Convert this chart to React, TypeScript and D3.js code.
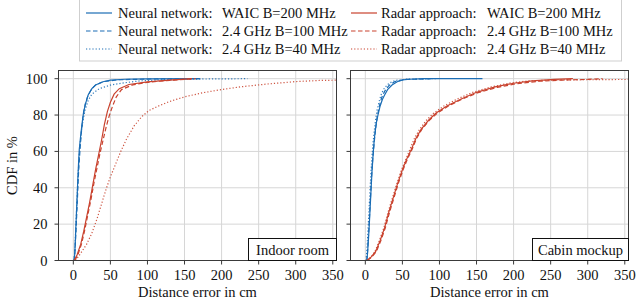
import React from "react";
import * as d3 from "d3";

type Pt = [number, number];

// ---------- Data (distance error in cm, CDF in %) ----------
// Indoor room
const indoorNNWaic: Pt[] = [[1,0],[2,4],[3,14],[4,24],[5,34],[6,44],[7,53],[8,61],[10,69],[12,76],[14,82],[17,87],[20,91],[25,94.5],[30,96.5],[40,98.3],[50,99.2],[70,99.7],[100,99.9],[170,100]];
const indoorNN100: Pt[] = [[1,0],[2,4],[3,11],[5,29],[7,48],[9,61],[11,71],[13,79],[16,86],[20,91],[25,94.5],[30,96.5],[40,98.3],[60,99.4],[100,99.8],[175,100]];
const indoorNN40: Pt[] = [[1,0],[2,5],[4,24],[6,44],[8,58],[10,68],[13,77],[16,83],[20,88],[25,91.5],[35,94.5],[50,96.5],[70,97.8],[90,98.8],[120,99.4],[170,99.8],[235,100]];
const indoorRadarWaic: Pt[] = [[1,0],[5,3],[10,9],[14,16],[18,24],[22,32],[26,41],[30,50],[34,58],[38,66],[42,75],[46,82],[50,87],[55,91.5],[62,94.5],[75,96.8],[100,98.2],[130,99.2],[160,100]];
const indoorRadar100: Pt[] = [[2,0],[6,3],[11,9],[15,16],[19,24],[24,34],[28,43],[32,51],[36,59],[40,66],[44,73],[48,79],[53,85],[58,90],[65,94],[80,96.6],[100,98],[130,99.1],[165,100]];
const indoorRadar40: Pt[] = [[3,0],[10,4],[18,9],[25,15],[32,23],[38,31],[44,39],[50,46],[57,53],[64,60],[72,67],[82,74],[92,79],[102,82.5],[115,85],[130,87.5],[150,90],[175,92.3],[200,94],[225,95.5],[260,97],[300,98.4],[330,99],[370,99.3]];

// Cabin mockup
const cabinNNWaic: Pt[] = [[2,0],[3,4],[4,10],[5,17],[6,25],[7,33],[8,41],[9,49],[10,55],[11,61],[12,66],[13,70],[15,76],[17,80],[20,85],[23,88.5],[26,91],[30,94],[36,96.5],[43,98.3],[50,99.3],[60,99.7],[80,100],[158,100]];
const cabinNN100: Pt[] = [[2,0],[3,5],[4,12],[5,19],[6,27],[7,35],[8,43],[9,50],[10,56],[12,65],[14,73],[16,79],[19,85],[22,89.5],[26,93],[32,96.3],[40,98.4],[55,99.6],[90,100]];
const cabinNN40: Pt[] = [[1,0],[2,5],[3,12],[4,20],[5,28],[6,36],[7,44],[8,51],[9,57],[10,63],[12,71],[14,78],[16,83],[19,88],[22,92],[26,95],[32,97.5],[40,99],[55,99.7],[95,100]];
const cabinRadarWaic: Pt[] = [[2,0],[8,2],[14,5],[20,11],[26,18],[32,27],[38,35],[44,43],[50,50],[56,56],[62,61],[68,67],[75,72],[85,77],[95,81],[110,85],[130,89],[150,92.5],[175,95.5],[200,97.5],[225,98.8],[255,99.6],[280,100]];
const cabinRadar100: Pt[] = [[3,0],[9,2],[15,5],[21,11],[27,18],[33,27],[39,35],[45,43],[51,50],[57,56],[63,61],[69,67],[76,72],[86,77],[97,81],[112,85],[132,89],[152,92.3],[178,95.2],[205,97.3],[235,98.6],[270,99.3],[300,99.6],[320,100]];
const cabinRadar40: Pt[] = [[2,0],[8,2],[13,5],[19,11],[25,18],[31,27],[37,35],[43,43],[49,50],[55,56],[60,61],[66,67],[73,72],[82,77],[92,81],[106,85],[125,89],[145,92.5],[170,95.5],[195,97.6],[220,98.8],[260,99.3],[320,99.5],[370,99.6]];

const xTicks = [0, 50, 100, 150, 200, 250, 300, 350];
const yTicks = [0, 20, 40, 60, 80, 100];

const seriesLabels = ["Neural network:", "Radar approach:"];
const configLabels = ["WAIC B=200 MHz", "2.4 GHz B=100 MHz", "2.4 GHz B=40 MHz"];
const panelTitles = ["Indoor room", "Cabin mockup"];

// ---------- Styles ----------
const BLUE = "#1b6db5";
const RED = "#c9422e";
const DASHES = [null, "4.5,2.5", "1.2,2"];
const FONT = "'Liberation Serif', 'Times New Roman', serif";
const FS = 14.5;

const panels = [
  { x0: 58.5, x1: 336.5, title: panelTitles[0], boxW: 88, data: [[indoorNNWaic, indoorNN100, indoorNN40], [indoorRadarWaic, indoorRadar100, indoorRadar40]], yLabels: true },
  { x0: 350.5, x1: 628.5, title: panelTitles[1], boxW: 96, data: [[cabinNNWaic, cabinNN100, cabinNN40], [cabinRadarWaic, cabinRadar100, cabinRadar40]], yLabels: false },
];

const Y0 = 70.5;
const Y1 = 260.5;

function Panel({ p, idx }: { p: typeof panels[number]; idx: number }) {
  const x = d3.scaleLinear().domain([-20, 355]).range([p.x0, p.x1]);
  const y = d3.scaleLinear().domain([0, 104.5]).range([Y1, Y0]);
  const line = d3.line<Pt>().x((d) => x(d[0])).y((d) => y(d[1]));
  const clipId = `clip${idx}`;
  const colors = [BLUE, RED];
  return (
    <g>
      <defs>
        <clipPath id={clipId}>
          <rect x={p.x0} y={Y0} width={p.x1 - p.x0} height={Y1 - Y0} />
        </clipPath>
      </defs>
      {/* grid */}
      {xTicks.map((t) => (
        <line key={"gx" + t} x1={x(t)} x2={x(t)} y1={Y0} y2={Y1} stroke="#d6d6d6" strokeWidth={1} />
      ))}
      {yTicks.map((t) => (
        <line key={"gy" + t} x1={p.x0} x2={p.x1} y1={y(t)} y2={y(t)} stroke="#d6d6d6" strokeWidth={1} />
      ))}
      {/* curves */}
      <g clipPath={`url(#${clipId})`}>
        {p.data.map((group, gi) =>
          group.map((s, si) => (
            <path
              key={`${gi}-${si}`}
              d={line(s) || ""}
              fill="none"
              stroke={colors[gi]}
              strokeWidth={1.2}
              strokeDasharray={DASHES[si] || undefined}
              strokeOpacity={si === 2 ? 0.9 : 1}
            />
          ))
        )}
      </g>
      {/* frame */}
      <rect x={p.x0} y={Y0} width={p.x1 - p.x0} height={Y1 - Y0} fill="none" stroke="#3a3a3a" strokeWidth={1} />
      {/* ticks */}
      {xTicks.map((t) => (
        <g key={"tx" + t}>
          <line x1={x(t)} x2={x(t)} y1={Y1} y2={Y1 + 4} stroke="#3a3a3a" />
          <text x={x(t)} y={280} textAnchor="middle" fontFamily={FONT} fontSize={FS} fill="#111">{t}</text>
        </g>
      ))}
      {yTicks.map((t) => (
        <g key={"ty" + t}>
          <line x1={p.x0 - 4} x2={p.x0} y1={y(t)} y2={y(t)} stroke="#3a3a3a" />
          {p.yLabels && (
            <text x={p.x0 - 11} y={y(t) + 5} textAnchor="end" fontFamily={FONT} fontSize={FS} fill="#111">{t}</text>
          )}
        </g>
      ))}
      <text x={(p.x0 + p.x1) / 2} y={297} textAnchor="middle" fontFamily={FONT} fontSize={FS} fill="#111">Distance error in cm</text>
      {/* panel title box */}
      <rect x={p.x1 - p.boxW} y={238.5} width={p.boxW} height={Y1 - 238.5} fill="white" stroke="#111" strokeWidth={1} />
      <text x={p.x1 - p.boxW / 2} y={254.5} textAnchor="middle" fontFamily={FONT} fontSize={FS} fill="#111">{p.title}</text>
    </g>
  );
}

export default function App() {
  const legendCols = [
    { lineX: 86, labelX: 118, valueX: 222, color: BLUE },
    { lineX: 351, labelX: 381, valueX: 487, color: RED },
  ];
  const rowY = [13, 31, 49];
  return (
    <svg width={640} height={300} style={{ position: "absolute", left: 0, top: 0, background: "white" }}>
      {panels.map((p, i) => (
        <Panel key={i} p={p} idx={i} />
      ))}
      <text
        transform={`translate(17,${(Y0 + Y1) / 2}) rotate(-90)`}
        textAnchor="middle"
        fontFamily={FONT}
        fontSize={FS}
        fill="#111"
      >
        CDF in %
      </text>
      {/* legend */}
      <rect x={79.5} y={-1} width={542} height={62} fill="white" stroke="#cfcfcf" strokeWidth={1} />
      {legendCols.map((c, ci) =>
        configLabels.map((cfg, ri) => (
          <g key={`${ci}-${ri}`}>
            <line x1={c.lineX} x2={c.lineX + 26} y1={rowY[ri]} y2={rowY[ri]} stroke={c.color} strokeWidth={1.2} strokeDasharray={DASHES[ri] || undefined} />
            <text x={c.labelX} y={rowY[ri] + 5} fontFamily={FONT} fontSize={FS} fill="#111">{seriesLabels[ci]}</text>
            <text x={c.valueX} y={rowY[ri] + 5} fontFamily={FONT} fontSize={FS} fill="#111">{cfg}</text>
          </g>
        ))
      )}
    </svg>
  );
}
